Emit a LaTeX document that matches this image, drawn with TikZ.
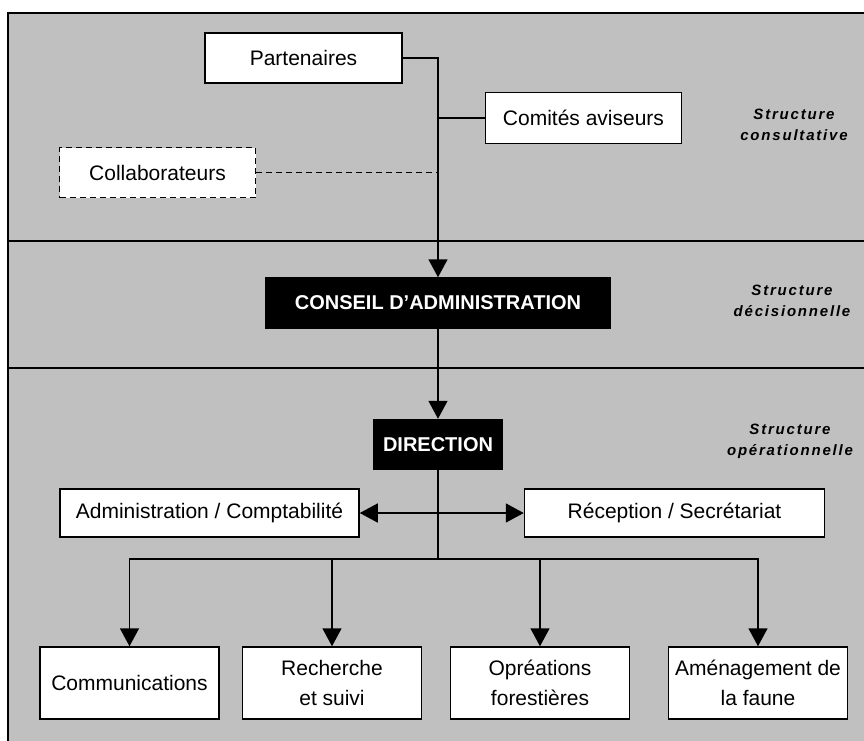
\documentclass[tikz,border=0pt]{standalone}
\usepackage{fontspec}
\setmainfont{Liberation Sans}
\newfontfamily\levelfont[LetterSpace=12]{Liberation Sans}
\usetikzlibrary{positioning,arrows.meta}
\definecolor{bandgray}{RGB}{192,192,192}
\tikzset{
	orgbox/.style={
		draw,
		line width=1.5pt,
		align=center,
		inner sep=0pt,
		font=\fontsize{21}{30}\selectfont
	},
	orgUnit/.style={orgbox, fill=white},
	orgGuest/.style={orgbox, fill=white, dash pattern=on 6pt off 4pt},
	orgBoard/.style={orgbox, fill=black, text=white, font=\fontsize{20}{24}\selectfont\bfseries},
	orgBand/.style={draw, line width=1.8pt, fill=bandgray},
	orgLevel/.style={align=center, font=\levelfont\fontsize{15}{21}\selectfont\bfseries\itshape},
	orgLink/.style={line width=1.6pt},
	orgGuestLink/.style={orgLink, dash pattern=on 6pt off 4pt},
	orgFlow/.style={-{Triangle[length=18pt,width=19pt]}, line width=1.6pt},
	orgBoth/.style={{Triangle[length=18pt,width=19pt]}-{Triangle[length=18pt,width=19pt]}, line width=1.6pt}
}

\begin{document}
\begin{tikzpicture}[x=1pt, y=-1pt]

	\useasboundingbox (0,0) rectangle (864,740);
	\clip (0,0) rectangle (864,740);

	% Bands
	\draw[orgBand] (8,13) rectangle (880,241);
	\draw[orgBand] (8,241) rectangle (880,368);
	\draw[orgBand] (8,368) rectangle (880,760);

	% Decision chain
	\node[orgBoard, minimum width=344pt, minimum height=50pt] (conseil) at (438,303)
	{CONSEIL D'ADMINISTRATION};
	\node[orgBoard, below=90pt of conseil, minimum width=129pt, minimum height=50pt] (direction)
	{DIRECTION};

	% Consultative structure
	\node[orgUnit, minimum width=197pt, minimum height=50pt] (partenaires) at (303.5,58)
	{Partenaires};
	\node[orgUnit, below right=8pt and 82pt of partenaires, minimum width=196pt, minimum height=51pt] (comites)
	{Comités aviseurs};
	\node[orgGuest, below left=63pt and -52pt of partenaires, minimum width=196pt, minimum height=50pt] (collab)
	{Collaborateurs};

	% Staff
	\node[orgUnit, below left=18pt and 13pt of direction, minimum width=299pt, minimum height=48pt] (admin)
	{Administration / Comptabilité};
	\node[orgUnit, below right=18pt and 20.5pt of direction, minimum width=300pt, minimum height=48pt] (recep)
	{Réception / Secrétariat};

	% Services
	\node[orgUnit, minimum width=179pt, minimum height=72pt] (rech) at (332,683)
	{Recherche\\et suivi};
	\node[orgUnit, left=22pt of rech, minimum width=179pt, minimum height=72pt] (comm)
	{Communications};
	\node[orgUnit, right=27.5pt of rech, minimum width=179pt, minimum height=72pt] (opr)
	{Opréations\\forestières};
	\node[orgUnit, right=37.5pt of opr, minimum width=179pt, minimum height=72pt] (amen)
	{Aménagement de\\la faune};

	% Levels
	\node[orgLevel] (lvlcons) at (794,125) {Structure\\consultative};
	\node[orgLevel] (lvldec) at (792,301) {Structure\\décisionnelle};
	\node[orgLevel] (lvlop) at (790,441) {Structure\\opérationnelle};

	% Flows
	\coordinate[below=89pt of direction.south] (bus);

	\draw[orgFlow] (partenaires.east) -| (conseil.north);
	\draw[orgLink] (comites.west) -- (comites.west -| conseil.north);
	\draw[orgGuestLink] (collab.east) -- (collab.east -| conseil.north);
	\draw[orgFlow] (conseil) -- (direction);

	\draw[orgBoth] (admin) -- (recep);
	\draw[orgLink] (direction) -- (bus);

	\draw[orgFlow] (bus) -| (comm.north);
	\draw[orgFlow] (bus) -| (rech.north);
	\draw[orgFlow] (bus) -| (opr.north);
	\draw[orgFlow] (bus) -| (amen.north);

\end{tikzpicture}
\end{document}
